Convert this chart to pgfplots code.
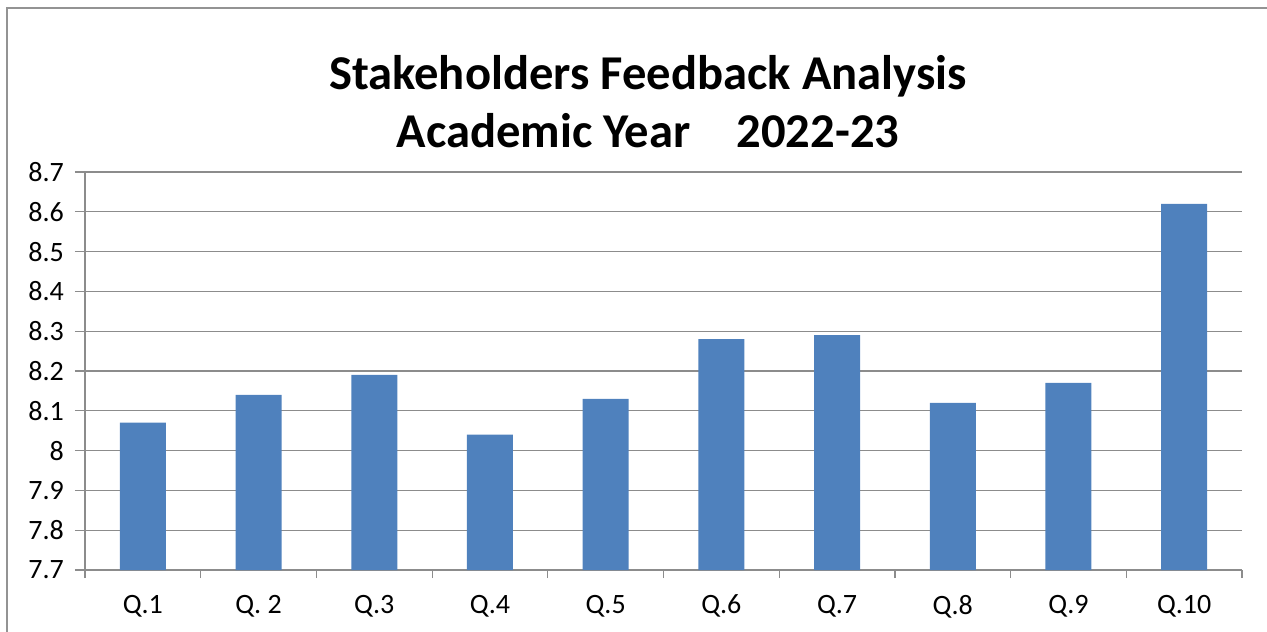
\documentclass[border=0pt]{standalone}
\usepackage{pgfplots}
\pgfplotsset{compat=1.18}
\usepackage{fontspec}
\setmainfont{Carlito}
\definecolor{barblue}{HTML}{4F81BD}
\definecolor{gridgray}{HTML}{8C8C8C}
\begin{document}
\begin{tikzpicture}[x=0.5pt,y=-0.5pt]
\useasboundingbox (0,0) rectangle (1267,631);
\draw[line width=1.2pt, color=gray!85] (7,8) rectangle (1280,650);
\node[font=\fontsize{24.3}{29}\selectfont\bfseries] at (648,76) {Stakeholders Feedback Analysis};
\node[font=\fontsize{24.3}{29}\selectfont\bfseries] at (648,131) {Academic Year\hspace{0.95em}2022-23};
\begin{axis}[
  at={(85pt*0.5,-570pt*0.5)}, anchor=south west,
  scale only axis, width=578.5pt, height=199pt,
  xmin=-0.5, xmax=9.5, ymin=7.7, ymax=8.7,
  ytick={7.7,7.8,7.9,8.0,8.1,8.2,8.3,8.4,8.5,8.6,8.7},
  yticklabels={7.7,7.8,7.9,8,8.1,8.2,8.3,8.4,8.5,8.6,8.7},
  xtick={0,...,9},
  xticklabels={Q.1,Q. 2,Q.3,Q.4,Q.5,Q.6,Q.7,Q.8,Q.9,Q.10},
  minor xtick={-0.5,0.5,...,9.5},
  major x tick style={draw=none},
  minor x tick style={gridgray, line width=0.6pt},
  minor tick length=4pt,
  major tick length=5pt,
  tick align=outside,
  xtick pos=bottom, ytick pos=left,
  ymajorgrids, grid style={gridgray, line width=0.6pt},
  y tick style={gridgray, line width=0.6pt},
  axis line style={gridgray, line width=0.6pt},
  axis x line*=bottom, axis y line*=left,
  tick label style={font=\fontsize{14}{16}\selectfont},
  xticklabel style={yshift=-4pt},
  yticklabel style={xshift=-2pt},
  ybar, bar width=23pt,
  clip=false,
]
\addplot[fill=barblue, draw=none] coordinates {
(0,8.07) (1,8.14) (2,8.19) (3,8.04) (4,8.13) (5,8.28) (6,8.29) (7,8.12) (8,8.17) (9,8.62)};
\end{axis}
\end{tikzpicture}
\end{document}
